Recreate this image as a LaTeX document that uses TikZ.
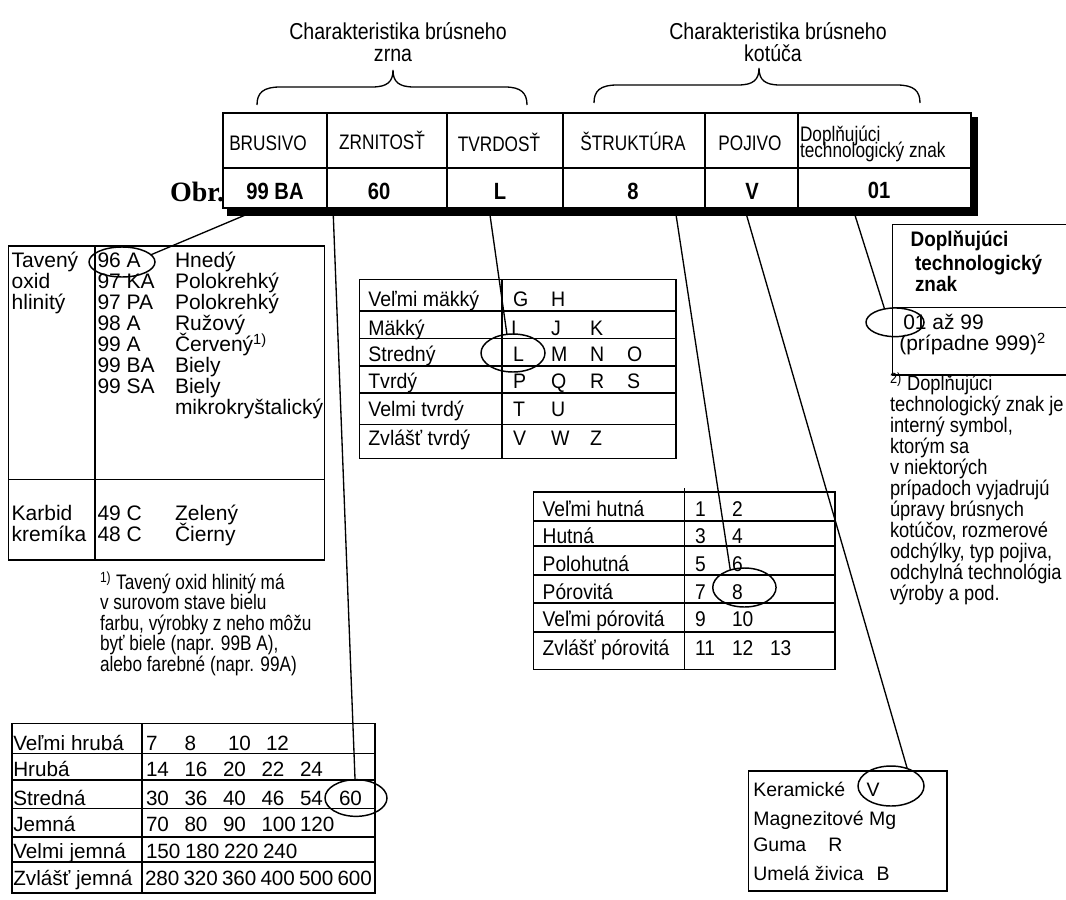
\documentclass[tikz,border=0pt]{standalone}
\usepackage{fontspec}
\setmainfont{Liberation Sans}
\newfontfamily\fntNar[FakeStretch=0.82]{Liberation Sans}
\newfontfamily\fntTtl[FakeStretch=0.85]{Liberation Sans}
\newfontfamily\fntNarB[FakeStretch=0.86]{Liberation Sans}
\newfontfamily\fntMid[FakeStretch=0.93]{Liberation Sans}
\newfontfamily\fntStr[FakeStretch=0.9]{Liberation Sans}
\newfontfamily\fntFnA[FakeStretch=0.82]{Liberation Sans}
\newfontfamily\fntFnB[FakeStretch=0.87]{Liberation Sans}
\newfontfamily\fntBxB[FakeStretch=0.9]{Liberation Sans}
\newfontfamily\fntSerif{Liberation Serif}
\usetikzlibrary{shapes.geometric}
\pgfdeclarelayer{under}
\pgfdeclarelayer{shade}
\pgfsetlayers{under,shade,main}
\tikzset{
  tx/.style={inner sep=0pt, outer sep=0pt, anchor=base west},
  tc/.style={inner sep=0pt, outer sep=0pt, anchor=base},
  ln/.style={line width=1.2pt},
  conn/.style={line width=1pt},
  ell/.style={draw, ellipse, inner sep=0pt, outer sep=0pt, line width=1.1pt},
  hcell/.style={draw, fill=white, inner sep=0pt, line width=1.2pt},
  fTitle/.style={font=\fntTtl\fontsize{17.25pt}{14.6pt}\selectfont},
  fHdr/.style={font=\fntNar\fontsize{15.75pt}{11.6pt}\selectfont},
  fVal/.style={font=\fntNarB\bfseries\fontsize{17.6pt}{18pt}\selectfont},
  fObr/.style={font=\fntSerif\bfseries\fontsize{21pt}{22pt}\selectfont},
  fLeft/.style={font=\fontsize{15.75pt}{16pt}\selectfont},
  fHard/.style={font=\fntMid\fontsize{15.75pt}{16pt}\selectfont},
  fStr/.style={font=\fntStr\fontsize{16pt}{16pt}\selectfont},
  fGrit/.style={font=\fontsize{15.5pt}{16pt}\selectfont},
  fFnA/.style={font=\fntFnA\fontsize{15.75pt}{16pt}\selectfont},
  fFnB/.style={font=\fntFnB\fontsize{15.75pt}{16pt}\selectfont},
  fBxB/.style={font=\fntBxB\bfseries\fontsize{15.75pt}{16pt}\selectfont},
  fBx/.style={font=\fontsize{15.75pt}{16pt}\selectfont},
  fPoj/.style={font=\fontsize{14.6pt}{16pt}\selectfont},
}
\begin{document}
\begin{tikzpicture}[x=0.75pt,y=-0.75pt]
\useasboundingbox (0,0) rectangle (1066,899);
\clip (0,0) rectangle (1066,899);

% ---------- titles and braces ----------
\node[tc, fTitle, text depth=0pt] (t1a) at (398,40) {Charakteristika brúsneho};
\node[tc, fTitle, text height=8pt] (t1b) at (393,61) {zrna};
\node[tc, fTitle, text depth=0pt] (t2a) at (778,40) {Charakteristika brúsneho};
\node[tc, fTitle, text height=11pt, text depth=0pt] (t2b) at (773,61) {kotúča};

\draw[conn] (257,105) .. controls (257,93) and (263,87) .. (280,87) -- (372,87)
  .. controls (387,87) and (393,82) .. (393,70)
  .. controls (393,82) and (399,87) .. (414,87) -- (505,87)
  .. controls (521,87) and (527,93) .. (527,105);
\draw[conn] (594,103) .. controls (594,91) and (600,85) .. (617,85) -- (738,85)
  .. controls (753,85) and (759,80) .. (759,68)
  .. controls (759,80) and (765,85) .. (780,85) -- (897,85)
  .. controls (914,85) and (920,91) .. (920,103);

% ---------- header table ----------
\foreach \n/\a/\b in {B/223/327, Z/327/447, T/447/563, S/563/705, P/705/798, D/798/971} {
  \node[hcell, minimum width={(\b-\a)*0.75pt}, minimum height=41.25pt] (ra\n) at ({(\a+\b)/2},140.5) {};
  \node[hcell, minimum width={(\b-\a)*0.75pt}, minimum height=30pt] (rb\n) at ({(\a+\b)/2},188) {};
}
\node[tc, fHdr] (lbB) at (268,150) {BRUSIVO};
\node[tc, fHdr] (lbZ) at (382,149) {ZRNITOSŤ};
\node[tc, fHdr] (lbT) at (499,151) {TVRDOSŤ};
\node[tc, fHdr] (lbS) at (633,150) {ŠTRUKTÚRA};
\node[tc, fHdr] (lbP) at (750,150) {POJIVO};
\node[tx, fHdr, text depth=0pt] (lbD1) at (800,141.5) {Doplňujúci};
\node[tx, fHdr, text height=11.2pt] (lbD2) at (800,157.5) {technologický znak};

\node[tc, fVal] (vB) at (275,199) {99 BA};
\node[tc, fVal] (vZ) at (379,199) {60};
\node[tc, fVal] (vT) at (500,199) {L};
\node[tc, fVal] (vS) at (633,199) {8};
\node[tc, fVal] (vP) at (752,199) {V};
\node[tc, fVal] (vD) at (879,198.5) {01};

\coordinate (sB) at (262,208);
\coordinate (sZ) at (333,208);
\coordinate (sT) at (489,208);
\coordinate (sS) at (675,208);
\coordinate (sP) at (744.5,208);
\coordinate (sD) at (852.7,208);

% ---------- left table: brusivo ----------
\draw[ln] (8.3,246) rectangle (324.5,560);
\draw[ln] (95,246) -- (95,560);
\draw[ln] (8.3,479.3) -- (324.5,479.3);
\foreach \t [count=\i from 0] in {Tavený, oxid, hlinitý}
  \node[tx, fLeft] (la\i) at (11.7,{267.7+20.9*\i}) {\t};
\foreach \c/\d [count=\i from 0] in {96 A/Hnedý, 97 KA/Polokrehký, 97 PA/Polokrehký, 98 A/Ružový, 99 A/{Červený\textsuperscript{1)}}, 99 BA/Biely, 99 SA/Biely} {
  \node[tx, fLeft] (lc\i) at (97.5,{267.7+20.9*\i}) {\c};
  \node[tx, fLeft] (ld\i) at (175,{267.7+20.9*\i}) {\d};
}
\node[tx, fLeft] (ld7) at (175,414) {mikrokryštalický};
\node[tx, fLeft] (lk1) at (11.7,520) {Karbid};
\node[tx, fLeft] (lk2) at (11.7,541.5) {kremíka};
\node[tx, fLeft] (lk3) at (97.5,520) {49 C};
\node[tx, fLeft] (lk4) at (97.5,541.5) {48 C};
\node[tx, fLeft] (lk5) at (175,520) {Zelený};
\node[tx, fLeft] (lk6) at (175,541.5) {Čierny};

\foreach \t [count=\i from 0] in {{\textsuperscript{1)} Tavený oxid hlinitý má}, {v surovom stave bielu}, {farbu, výrobky z neho môžu}, {byť biele (napr. 99B A),}, {alebo farebné (napr. 99A)}}
  \node[tx, fFnA] (fa\i) at (100,{589+20.5*\i}) {\t};

% ---------- hardness table ----------
\draw[ln] (359.3,279.3) rectangle (675.7,458.3);
\foreach \y in {310.7, 338.3, 366, 392.7, 424.3}
  \draw[ln] (359.3,\y) -- (675.7,\y);
\draw[ln] (501.7,279.3) -- (501.7,458.3);
\foreach \t/\y [count=\i] in {Veľmi mäkký/306.7, Mäkký/335, Stredný/361.7, Tvrdý/388.3, Velmi tvrdý/416.7, Zvlášť tvrdý/445}
  \node[tx, fHard] (hr\i) at (368.3,\y) {\t};
\foreach \x/\y/\l [count=\i] in {513/306.7/G, 551/306.7/H,
  511/335/I, 551/335/J, 590/335/K,
  513/361.7/L, 551/361.7/M, 590/361.7/N, 627/361.7/O,
  513/388.3/P, 551/388.3/Q, 590/388.3/R, 627/388.3/S,
  513/416.7/T, 551/416.7/U,
  513/445/V, 551/445/W, 590/445/Z}
  \node[tx, fHard] (hl\i) at (\x,\y) {\l};

% ---------- structure table ----------
\draw[ln] (533.3,491.7) rectangle (835,669.3);
\foreach \y in {520.7, 546, 575, 602.7, 631.7}
  \draw[ln] (533.3,\y) -- (835,\y);
\draw[ln] (684.3,488) -- (684.3,669.3);
\foreach \t/\y [count=\i] in {Veľmi hutná/516.7, Hutná/543.3, Polohutná/571.7, Pórovitá/599.3, Veľmi pórovitá/626.7, Zvlášť pórovitá/655}
  \node[tx, fStr] (sr\i) at (542.7,\y) {\t};
\foreach \x/\y/\l [count=\i] in {695/516.7/1, 732/516.7/2, 695/543.3/3, 732/543.3/4,
  695/571.7/5, 732/571.7/6, 695/599.3/7, 732/599.3/8, 695/626.7/9, 732/626.7/10,
  695/655/11, 732/655/12, 770/655/13}
  \node[tx, fStr] (sn\i) at (\x,\y) {\l};

% ---------- grit table ----------
\draw[ln] (11.7,723.3) rectangle (375,893);
\foreach \y in {753.3, 780, 808.3, 836.7, 861.7}
  \draw[ln] (11.7,\y) -- (375,\y);
\draw[ln] (141.7,723.3) -- (141.7,893);
\foreach \t/\y [count=\i] in {Veľmi hrubá/750, Hrubá/776.7, Stredná/805, Jemná/831.7, Velmi jemná/858.3, Zvlášť jemná/885}
  \node[tx, fGrit] (gr\i) at (13.3,\y) {\t};
\foreach \x/\y/\l [count=\i] in {146/750/7, 184.5/750/8, 228/750/10, 266/750/12,
  146/776.7/14, 184.5/776.7/16, 223/776.7/20, 261.5/776.7/22, 300/776.7/24,
  146/805/30, 184.5/805/36, 223/805/40, 261.5/805/46, 300/805/54, 339/805/60,
  146/831.7/70, 184.5/831.7/80, 223/831.7/90, 261.5/831.7/100, 300/831.7/120,
  146/858.3/150, 185/858.3/180, 224/858.3/220, 263/858.3/240,
  145/885/280, 183.5/885/320, 222/885/360, 260.5/885/400, 299/885/500, 337.5/885/600}
  \node[tx, fGrit] (gn\i) at (\x,\y) {\l};

% ---------- pojivo box ----------
\draw[ln] (748.3,770.7) rectangle (946.7,890.7);
\node[tx, fPoj] (p1) at (753.3,796.7) {Keramické};
\node[tx, fPoj] (p1v) at (866.7,796.7) {V};
\node[tx, fPoj] (p2) at (753.3,825) {Magnezitové Mg};
\node[tx, fPoj] (p3) at (753.3,851.7) {Guma};
\node[tx, fPoj] (p3v) at (828.3,851.7) {R};
\node[tx, fPoj] (p4) at (753.3,880) {Umelá živica};
\node[tx, fPoj] (p4v) at (876.7,880) {B};

% ---------- right box ----------
\draw[ln] (1080,224.3) -- (892.5,224.3) -- (892.5,375) -- (1080,375);
\draw[ln] (892.5,307.3) -- (1080,307.3);
\node[tx, fBxB] (rb1) at (910.7,246.7) {Doplňujúci};
\node[tx, fBxB] (rb2) at (915,270) {technologický};
\node[tx, fBxB] (rb3) at (915,291.7) {znak};
\node[tx, fBx, text depth=0pt] (rb4) at (903.3,329) {01 až 99};
\node[tx, fBx] (rb5) at (899.3,350) {(prípadne 999)\textsuperscript{2}};
\foreach \t [count=\i from 0] in {{\textsuperscript{2)} Doplňujúci}, {technologický znak je}, {interný symbol,}, {ktorým sa}, {v niektorých}, {prípadoch vyjadrujú}, {úpravy brúsnych}, {kotúčov, rozmerové}, {odchýlky, typ pojiva,}, {odchylná technológia}, {výroby a pod.}}
  \node[tx, fFnB] (fb\i) at (890,{390+21*\i}) {\t};

% ---------- ellipses ----------
\node[ell, minimum width=49.5pt, minimum height=22.5pt] (eA) at (122,262) {};
\node[ell, minimum width=48pt, minimum height=28.5pt] (eL) at (513,353) {};
\node[ell, minimum width=46.5pt, minimum height=27.5pt] (e60) at (356,798) {};
\node[ell, minimum width=47.5pt, minimum height=29.25pt] (e8) at (744.4,587.5) {};
\node[ell, minimum width=49.5pt, minimum height=30pt] (eV) at (891,786) {};
\node[ell, minimum width=43.5pt, minimum height=21.5pt] (e01) at (895,322.3) {};

% ---------- connectors, Obr., shadow ----------
\begin{pgfonlayer}{under}
\node[tx, fObr] (obr) at (170,201) {Obr.};
\draw[conn] (sB) -- (eA.14);
\draw[conn] (sZ) -- (e60.93);
\draw[conn] (sT) -- (eL.108);
\draw[conn] (sS) -- (e8.129);
\draw[conn] (sP) -- (eV.47);
\draw[conn] (sD) -- (e01.128);
\end{pgfonlayer}
\begin{pgfonlayer}{shade}
\fill[black] (227,117) rectangle (978,215.7);
\end{pgfonlayer}
\end{tikzpicture}
\end{document}
